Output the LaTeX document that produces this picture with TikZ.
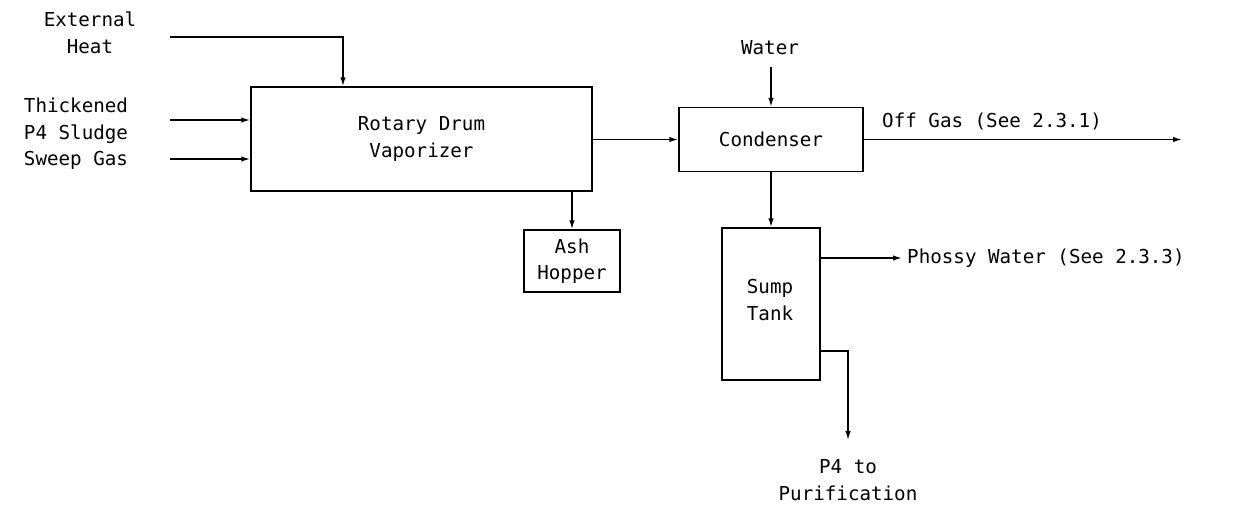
\documentclass[tikz,border=0pt]{standalone}
\usepackage{fontspec}
\newfontfamily\cadfont{DejaVu Sans Mono}
\usetikzlibrary{arrows.meta,calc}
\begin{document}
\begin{tikzpicture}[x=1pt,y=-1pt,
  every node/.style={font=\cadfont\fontsize{19.2}{26.5}\selectfont, inner sep=0pt},
  box/.style={draw, line width=1.5pt, align=center},
  lbl/.style={align=center},
  flow/.style={line width=1.5pt, -{Latex[length=9pt,width=5.5pt]}}]
\useasboundingbox (0,0) rectangle (1248,504);
% boxes
\node[box, minimum width=341pt, minimum height=104pt] (rot) at (421.5,139) {Rotary Drum\\Vaporizer};
\node[box, minimum width=184pt, minimum height=64pt] (cond) at (771,139.5) {Condenser};
\node[box, minimum width=96pt, minimum height=62pt] (ash) at (572,261) {Ash\\Hopper};
\node[box, minimum width=98pt, minimum height=152pt] (sump) at (771,304) {};
\node[lbl] (sumpt) at (770,300) {Sump\\Tank};
% labels
\node[lbl] (heat) at (90,33) {External\\Heat};
\node[lbl] (thick) at (76,121) {Thickened\\P4 Sludge};
\node[lbl] (sweep) at (76,160) {Sweep Gas};
\node[lbl] (water) at (770,48) {Water};
\node[lbl, anchor=west] (offgas) at (882,121) {Off Gas (See 2.3.1)};
\node[lbl, anchor=west] (phossy) at (907,258) {Phossy Water (See 2.3.3)};
\node[lbl] (p4) at (848,480) {P4 to\\Purification};
% free ends
\coordinate (hs) at (170,37);
\coordinate (ts) at (170,120);
\coordinate (ss) at (170,159);
\coordinate (ws) at (771,67);
\coordinate (og) at (1182,139.5);
\coordinate (pwE) at (902,258);
\coordinate (p4E) at (848,440);
% connectors
\draw[flow] (hs) -| ([xshift=-78.5pt]rot.north);
\draw[flow] (ts) -- (ts -| rot.west);
\draw[flow] (ss) -- (ss -| rot.west);
\draw[flow] (rot.east |- cond.west) -- (cond.west);
\draw[flow] (ws) -- (cond.north);
\draw[flow] (cond.east) -- (og);
\draw[flow] (cond.south) -- (sump.north);
\draw[flow] (ash.north |- rot.south) -- (ash.north);
\draw[flow] (pwE -| sump.east) -- (pwE);
\draw[flow] ([yshift=30pt]sump.south east) -| (p4E);
\end{tikzpicture}
\end{document}
